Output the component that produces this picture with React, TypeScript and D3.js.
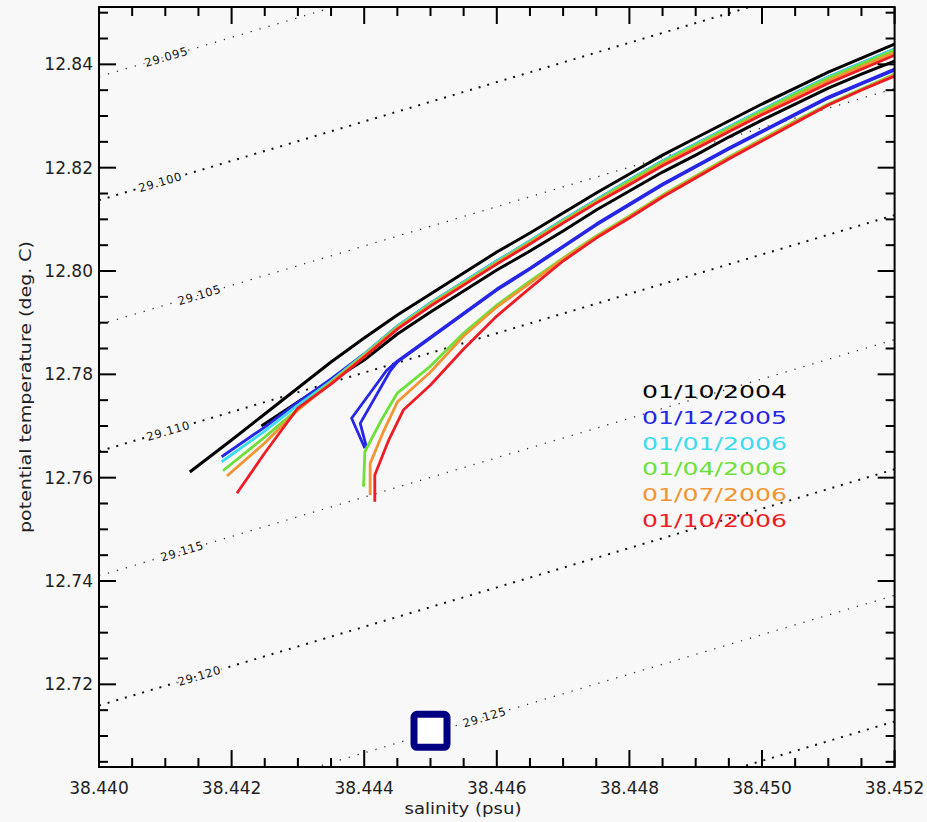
import React from 'react';
import * as d3 from 'd3';

const W = 927;
const H = 822;

const xDomain = [38.44, 38.452];
const yDomain = [12.704, 12.8511];
const xTicks = [38.44, 38.442, 38.444, 38.446, 38.448, 38.45, 38.452];
const yTicks = [12.72, 12.74, 12.76, 12.78, 12.8, 12.82, 12.84];

// salinity grid used by the profiles (psu)
const gridS = [38.4420, 38.4425, 38.4430, 38.4435, 38.4440, 38.4445, 38.4450, 38.4455, 38.4460, 38.4465,
  38.4470, 38.4475, 38.4480, 38.4485, 38.4490, 38.4495, 38.4500, 38.4505, 38.4510, 38.4515, 38.4520];

// 01/10/2004
const black1S = [38.44137, ...gridS];
const black1T = [12.76109, 12.76728, 12.77232, 12.77735, 12.78238, 12.78703, 12.79148, 12.79554, 12.79961, 12.80367,
  12.80735, 12.81122, 12.81509, 12.81877, 12.82244, 12.82574, 12.82903, 12.83232, 12.83541, 12.83851, 12.84122, 12.84393];
const black2S = [38.44245, ...gridS.slice(2)];
const black2T = [12.76999, 12.77464, 12.7787, 12.78277, 12.7878, 12.79206, 12.79612, 12.80019, 12.80386, 12.80774,
  12.8118, 12.81548, 12.81915, 12.82244, 12.82593, 12.82922, 12.83232, 12.83541, 12.83812, 12.84064];

// 01/12/2005
const blue1S = [38.44185, ...gridS.slice(1)];
const blue1T = [12.76405, 12.7698, 12.77464, 12.7791, 12.78394, 12.78935, 12.79381, 12.79787, 12.80193, 12.80581,
  12.80987, 12.81374, 12.81761, 12.82129, 12.82458, 12.82787, 12.83116, 12.83445, 12.83755, 12.84026, 12.84297];
const blue2aS = [38.44401, 38.44381, 38.44434, ...gridS.slice(5)];
const blue2aT = [12.7657, 12.7715, 12.7808, 12.78257, 12.78722, 12.79186, 12.79651, 12.80057, 12.80483, 12.80909,
  12.81296, 12.81683, 12.82032, 12.8238, 12.82709, 12.83038, 12.83367, 12.83638, 12.83909];
const blue2bS = [38.44403, 38.44394, 38.44439, ...gridS.slice(5)];
const blue2bT = [12.7661, 12.7705, 12.7806, 12.78237, 12.78702, 12.79166, 12.79631, 12.80037, 12.80463, 12.80889,
  12.81276, 12.81663, 12.82012, 12.8236, 12.82689, 12.83018, 12.83347, 12.83618, 12.83889];

// 01/01/2006
const cyanS = [38.44185, ...gridS.slice(1)];
const cyanT = [12.76308, 12.76903, 12.77406, 12.7787, 12.78394, 12.78935, 12.79381, 12.79787, 12.80193, 12.80581,
  12.80987, 12.81374, 12.81761, 12.82129, 12.82458, 12.82787, 12.83116, 12.83445, 12.83755, 12.84026, 12.84297];

// 01/04/2006
const green1S = [38.44187, ...gridS.slice(1)];
const green1T = [12.76134, 12.76786, 12.77328, 12.77851, 12.78374, 12.78915, 12.79361, 12.79767, 12.80173, 12.80561,
  12.80967, 12.81354, 12.81741, 12.82109, 12.82438, 12.82767, 12.83096, 12.83425, 12.83735, 12.84006, 12.84277];
const green2S = [38.44399, 38.44401, 38.44425, ...gridS.slice(5)];
const green2T = [12.75824, 12.76502, 12.77096, 12.77638, 12.7816, 12.78799, 12.79341, 12.79806, 12.80251, 12.80677,
  12.81064, 12.8147, 12.81838, 12.82206, 12.82554, 12.82903, 12.83232, 12.83522, 12.83812];

// 01/07/2006
const orange1S = [38.44193, ...gridS.slice(1)];
const orange1T = [12.76032, 12.7667, 12.77309, 12.77832, 12.78354, 12.78895, 12.79341, 12.79747, 12.80153, 12.80541,
  12.80947, 12.81334, 12.81701, 12.82069, 12.82398, 12.82727, 12.83056, 12.83375, 12.83685, 12.83956, 12.84227];
const orange2S = [38.44409, 38.44409, 38.4443, ...gridS.slice(5)];
const orange2T = [12.75664, 12.76277, 12.76922, 12.77464, 12.78044, 12.78741, 12.79303, 12.79767, 12.80232, 12.80657,
  12.81045, 12.81451, 12.81819, 12.82186, 12.82535, 12.82883, 12.83212, 12.83503, 12.83793];

// 01/10/2006
const red1S = [38.44208, ...gridS.slice(1)];
const red1T = [12.75697, 12.76477, 12.77348, 12.77812, 12.78334, 12.78875, 12.79321, 12.79727, 12.80133, 12.80521,
  12.80927, 12.81314, 12.81671, 12.82039, 12.82368, 12.82697, 12.83026, 12.83325, 12.83635, 12.83906, 12.84177];
const red2S = [38.44416, 38.44416, 38.44437, 38.44459, ...gridS.slice(6)];
const red2T = [12.75534, 12.76051, 12.76728, 12.77309, 12.77793, 12.7849, 12.79128, 12.7967, 12.80193, 12.80638,
  12.81025, 12.81432, 12.81799, 12.82167, 12.82516, 12.82864, 12.83212, 12.83503, 12.83774];

const legendLabels = ['01/10/2004', '01/12/2005', '01/01/2006', '01/04/2006', '01/07/2006', '01/10/2006'];
const legendColors = ['#000000', '#2626e6', '#3cdcf0', '#6ee03a', '#f29432', '#ee1c24'];

// isopycnals (sigma-theta), temperature at S = 38.440 and slope dT/dS
const sigmaLabels = ['29.095', '29.100', '29.105', '29.110', '29.115', '29.120', '29.125', '29.130'];
const sigmaT0 = [12.8376, 12.8137, 12.7896, 12.7651, 12.741, 12.7159, 12.6915, 12.6671];
const sigmaSlope = 3.81;
const sigmaLabelS = [38.44101, 38.44092, 38.44151, 38.44104, 38.44125, 38.44151, 38.44581, null];
const sigmaHeavy = [false, true, false, true, false, true, false, true];

// station marker
const markerS = 38.445;
const markerT = 12.711;

const profiles = [
  { s: black1S, t: black1T, c: 0 },
  { s: black2S, t: black2T, c: 0 },
  { s: blue1S, t: blue1T, c: 1 },
  { s: blue2aS, t: blue2aT, c: 1 },
  { s: blue2bS, t: blue2bT, c: 1 },
  { s: cyanS, t: cyanT, c: 2 },
  { s: green1S, t: green1T, c: 3 },
  { s: green2S, t: green2T, c: 3 },
  { s: orange1S, t: orange1T, c: 4 },
  { s: orange2S, t: orange2T, c: 4 },
  { s: red1S, t: red1T, c: 5 },
  { s: red2S, t: red2T, c: 5 },
];

const BG = '#f8f8f8';
const FONT = 'DejaVu Sans, sans-serif';

export default function App() {
  const left = 99, right = 894.6, top = 7, bottom = 767;
  const x = d3.scaleLinear().domain(xDomain).range([left, right]);
  const y = d3.scaleLinear().domain(yDomain).range([bottom, top]);
  const line = d3.line<[number, number]>().x((d) => x(d[0])).y((d) => y(d[1]));

  const xMinor = d3.range(0, 25).map((i) => +(xDomain[0] + i * 0.0005).toFixed(4));
  const yMinor = d3.range(0, 30).map((i) => +(12.705 + i * 0.005).toFixed(3)).filter((v) => v <= yDomain[1]);

  const angle = (Math.atan2(y(12.8 + sigmaSlope * 0.001) - y(12.8), x(38.441) - x(38.44)) * 180) / Math.PI;

  const majorLen = 17, minorLen = 9;

  return (
    <svg width={W} height={H} style={{ position: 'fixed', left: 0, top: 0, background: BG }}>
      <defs>
        <clipPath id="plot">
          <rect x={left} y={top} width={right - left} height={bottom - top} />
        </clipPath>
      </defs>
      <rect x={0} y={0} width={W} height={H} fill={BG} />

      {/* isopycnals */}
      <g clipPath="url(#plot)">
        {sigmaT0.map((t0, i) => {
          const pts: [number, number][] = [
            [xDomain[0], t0],
            [xDomain[1], t0 + sigmaSlope * (xDomain[1] - xDomain[0])],
          ];
          return (
            <path
              key={'iso' + i}
              d={line(pts) || ''}
              fill="none"
              stroke="#111"
              strokeWidth={sigmaHeavy[i] ? 2 : 1.3}
              strokeDasharray={sigmaHeavy[i] ? '2 7' : '1.3 8'}
              opacity={sigmaHeavy[i] ? 1 : 0.85}
            />
          );
        })}
        {sigmaLabelS.map((s, i) => {
          if (s === null) return null;
          const t = sigmaT0[i] + sigmaSlope * (s - xDomain[0]);
          return (
            <text
              key={'isol' + i}
              transform={`translate(${x(s)},${y(t)}) rotate(${angle})`}
              textAnchor="middle"
              dy="0.36em"
              fontFamily={FONT}
              fontSize={11.5}
              fill="#111"
              stroke={BG}
              strokeWidth={4}
              paintOrder="stroke"
              textLength={44}
              lengthAdjust="spacing"
            >
              {sigmaLabels[i]}
            </text>
          );
        })}
      </g>

      {/* profiles */}
      <g clipPath="url(#plot)">
        {profiles.map((p, i) => (
          <path
            key={'p' + i}
            d={line(p.s.map((s, j) => [s, p.t[j]] as [number, number])) || ''}
            fill="none"
            stroke={legendColors[p.c]}
            strokeWidth={p.c === 0 ? 3 : 2.8}
            strokeLinejoin="round"
          />
        ))}
      </g>

      {/* station marker */}
      <rect
        x={x(markerS) - 16.5}
        y={y(markerT) - 16.5}
        width={33}
        height={33}
        rx={3}
        fill="#ffffff"
        stroke="#000080"
        strokeWidth={7}
      />

      {/* legend */}
      {legendLabels.map((lab, i) => (
        <text
          key={'leg' + i}
          transform={`translate(642,${398 + i * 25.8}) scale(1.36,1)`}
          fontFamily={FONT}
          fontSize={18.5}
          fill={legendColors[i]}
        >
          {lab}
        </text>
      ))}

      {/* frame */}
      <rect x={left} y={top} width={right - left} height={bottom - top} fill="none" stroke="#000" strokeWidth={2} />

      {/* ticks */}
      <g stroke="#000" strokeWidth={2}>
        {xMinor.map((v, i) => {
          const isMajor = i % 4 === 0;
          const len = isMajor ? majorLen : minorLen;
          return (
            <g key={'xt' + i}>
              <line x1={x(v)} x2={x(v)} y1={bottom} y2={bottom - len} />
              <line x1={x(v)} x2={x(v)} y1={top} y2={top + len} />
            </g>
          );
        })}
        {yMinor.map((v, i) => {
          const isMajor = Math.abs(v * 100 - Math.round(v * 50) * 2) < 1e-6;
          const len = isMajor ? majorLen : minorLen;
          return (
            <g key={'yt' + i}>
              <line x1={left} x2={left + len} y1={y(v)} y2={y(v)} />
              <line x1={right} x2={right - len} y1={y(v)} y2={y(v)} />
            </g>
          );
        })}
      </g>

      {/* tick labels */}
      {xTicks.map((v) => (
        <text key={'xl' + v} x={x(v)} y={794} textAnchor="middle" fontFamily={FONT} fontSize={17} fill="#222">
          {v.toFixed(3)}
        </text>
      ))}
      {yTicks.map((v) => (
        <text key={'yl' + v} x={93} y={y(v)} dy={6} textAnchor="end" fontFamily={FONT} fontSize={17} fill="#222">
          {v.toFixed(2)}
        </text>
      ))}

      {/* axis titles */}
      <text x={463} y={814} textAnchor="middle" fontFamily={FONT} fontSize={15} fill="#222" textLength={117} lengthAdjust="spacingAndGlyphs">
        salinity (psu)
      </text>
      <text
        transform={`translate(31,${(top + bottom) / 2}) rotate(-90)`}
        textAnchor="middle"
        fontFamily={FONT}
        fontSize={15.5}
        fill="#222"
        textLength={292}
        lengthAdjust="spacingAndGlyphs"
      >
        potential temperature (deg. C)
      </text>
    </svg>
  );
}
